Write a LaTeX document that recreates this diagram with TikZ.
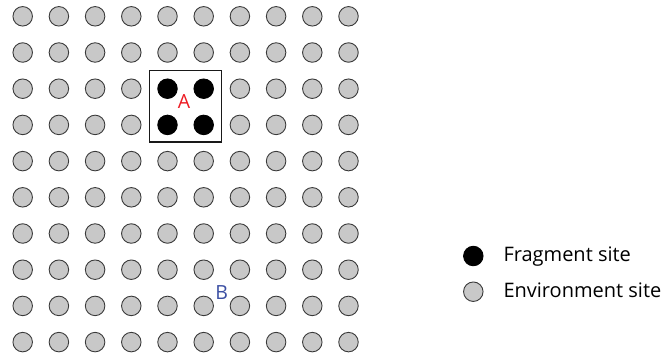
\documentclass[tikz,border=0pt]{standalone}
\usepackage{fontspec}
\setmainfont{Open Sans}
\definecolor{envgray}{HTML}{C8C8C8}
\definecolor{edgegray}{HTML}{3A3A3A}
\definecolor{labred}{HTML}{ED1C24}
\definecolor{labblue}{HTML}{3B4FA3}
\begin{document}
\begin{tikzpicture}[x=1pt,y=-1pt,
  envsite/.style={circle,draw=edgegray,line width=0.9pt,fill=envgray,minimum size=19.5pt,inner sep=0pt},
  fragsite/.style={circle,draw=black,line width=0.9pt,fill=black,minimum size=19.5pt,inner sep=0pt},
  fragbox/.style={draw=black!90,line width=1.5pt},
  lbl/.style={font=\fontsize{19.5}{22}\selectfont,inner sep=0pt,anchor=base},
  legtext/.style={font=\fontsize{20}{24}\selectfont,inner sep=0pt,anchor=base west}]
\useasboundingbox (0,0) rectangle (668,360);
\foreach \i in {0,...,9}{
  \foreach \j in {0,...,9}{
    \pgfmathsetmacro{\xx}{22.7+36.2*\i}
    \pgfmathsetmacro{\yy}{16.3+36.2*\j}
    \pgfmathtruncatemacro{\isfrag}{(\i>3)&&(\i<6)&&(\j>1)&&(\j<4)}
    \ifnum\isfrag=1
      \node[fragsite] (c-\i-\j) at (\xx,\yy) {};
    \else
      \node[envsite] (c-\i-\j) at (\xx,\yy) {};
    \fi
  }
}
\draw[fragbox] (149.3,70.7) rectangle (221.7,142.2);
\node[lbl,text=labred] (A) at (184,108.5) {A};
\node[lbl,text=labblue] (B) at (221.7,299.5) {B};
\node[fragsite] (legfrag) at (473.3,256) {};
\node[envsite] (legenv) at (473.3,291.7) {};
\node[legtext] (tfrag) at (503.3,261.7) {Fragment site};
\node[legtext] (tenv) at (503.3,297.4) {Environment site};
\end{tikzpicture}
\end{document}
